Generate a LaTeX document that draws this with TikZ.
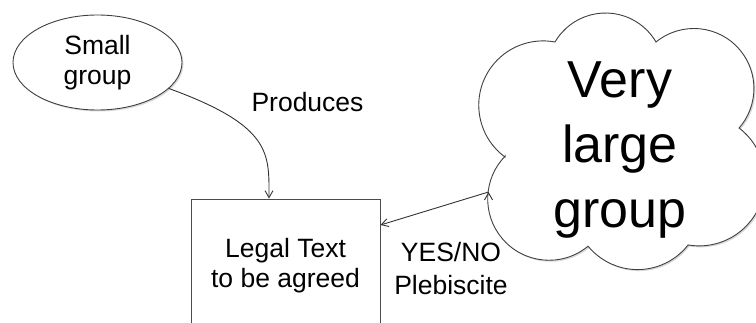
\documentclass[tikz,border=0pt]{standalone}
\usepackage{fontspec}
\setmainfont{Liberation Sans}
\usetikzlibrary{positioning,shapes,shadows,arrows.meta}

\begin{document}
\begin{tikzpicture}[x=1pt,y=1pt,>={Straight Barb[length=7pt,width=8pt]},
    every node/.style={font=\fontsize{26.5}{30}\selectfont,align=center,inner sep=0pt},
    shade/.style={drop shadow={opacity=0.3,shadow xshift=1.5pt,shadow yshift=-1.5pt}},
    line width=0.9pt]
  \useasboundingbox (0,0) rectangle (756,322);
  % cloud outline, one arc per puff
  \draw[black!75, fill=white, shade] (505,165)
    arc[start angle=233.7, end angle=79.3, radius=64.3]
    arc[start angle=149.7, end angle=30.3, radius=58.5]
    arc[start angle=129.2, end angle=-41.2, radius=60]
    arc[start angle=52.6, end angle=-99.7, radius=65.7]
    arc[start angle=-38, end angle=-140.6, radius=64.1]
    arc[start angle=-50.4, end angle=-224.3, radius=61.3] -- cycle;
  \coordinate (puff) at (488.5,130);
  \node (large) at (620,172) [font=\fontsize{52}{65}\selectfont] {Very\\large\\group};
  \node (small) at (97.5,259.5) [ellipse, draw=black!75, fill=white,
    minimum width=169pt, minimum height=95pt, shade] {Small\\group};
  \node (legal) at (285.5,56) [rectangle, draw=black!70,
    minimum width=189pt, minimum height=134pt] {Legal Text\\to be agreed};
  \node (prod) at (307.5,210) [anchor=base] {Produces};
  \node (vote) at (451,53) [font=\fontsize{26.5}{33}\selectfont] {YES/NO\\Plebiscite};
  \path[->, draw=black!80]
    (small) edge [out=-20, in=90, out distance=110pt, in distance=45pt]
      ([xshift=-16.5pt]legal.north)
    (puff) edge ([yshift=41pt]legal.east);
\end{tikzpicture}
\end{document}
